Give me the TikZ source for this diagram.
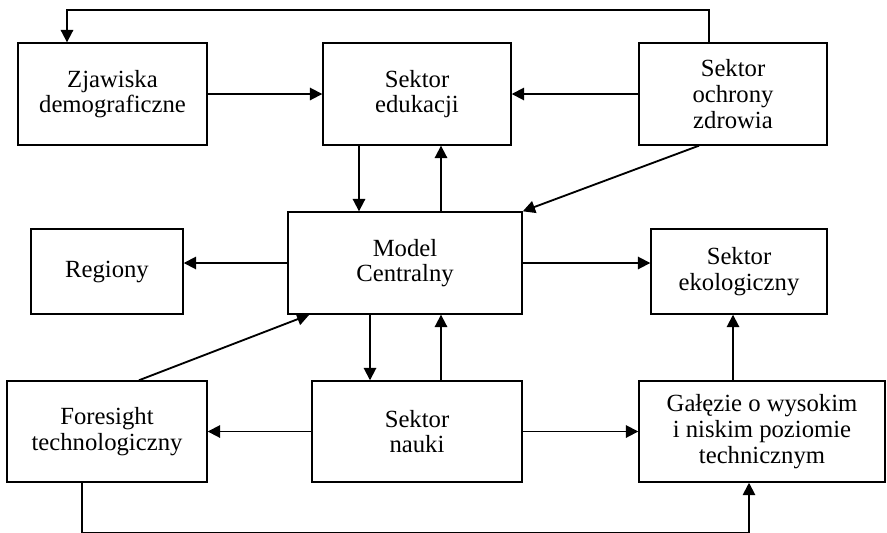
\documentclass[tikz,border=0pt]{standalone}
\usepackage{fontspec}
\setmainfont{Liberation Serif}
\usetikzlibrary{arrows.meta}

\begin{document}
\begin{tikzpicture}[x=0.567pt,y=-0.567pt,
    box/.style={draw,line width=0.8pt,align=center,inner sep=0pt,
        font=\fontsize{14}{14.6}\selectfont},
    conn/.style={line width=1.05pt},
    arr/.style={conn,-{Triangle[length=7pt,width=7pt]}}]

    \def\topH{57.8pt}; % height of the boxes in the top row
    \def\lowH{57.3pt}; % height of the boxes in the bottom row
    \def\midH{48.2pt}; % side boxes of the middle row

    \useasboundingbox (0,0) rectangle (887,532);

    %%% top row %%%
    \node[box,minimum width=107.2pt,minimum height=\topH] (demo) at (112.5,94) {Zjawiska\\demograficzne};
    \node[box,minimum width=106.6pt,minimum height=\topH] (edu) at (417,94) {Sektor\\edukacji};
    \node[box,minimum width=106.6pt,minimum height=\topH] (zdrowie) at (733,94) {Sektor\\ochrony\\zdrowia};

    %%% middle row %%%
    \node[box,minimum width=132.7pt,minimum height=\topH] (model) at (405,263) {Model\\Centralny};
    \node[box,minimum width=86.2pt,minimum height=\midH] (regiony) at (107,271.5) {Regiony};
    \node[box,minimum width=99.8pt,minimum height=\midH] (eko) at (739,271.5) {Sektor\\ekologiczny};

    %%% bottom row %%%
    \node[box,minimum width=113.4pt,minimum height=\lowH] (foresight) at (107,431.5) {Foresight\\technologiczny};
    \node[box,minimum width=119.1pt,minimum height=\lowH] (nauka) at (417,431.5) {Sektor\\nauki};
    \node[box,minimum width=139.5pt,minimum height=\lowH] (galezie) at (762,431.5) {Ga\l{}\k{e}zie o wysokim\\i niskim poziomie\\technicznym};

    % columns of the vertical connectors
    \coordinate (colA) at (359,0);
    \coordinate (colB) at (441,0);
    \coordinate (colC) at (370,0);
    \coordinate (colD) at (733,0);
    \coordinate (colE) at (749,0);
    \coordinate (topL) at (67,10);
    \coordinate (topR) at (709,10);
    \coordinate (botL) at (82,532.5);
    \coordinate (botR) at (749,532.5);

    %%% connectors %%%
    \draw[arr] (demo) -- (edu);
    \draw[arr] (zdrowie) -- (edu);
    \draw[arr] (edu.south -| colA) -- (model.north -| colA);
    \draw[arr] (model.north -| colB) -- (edu.south -| colB);
    \draw[arr] ([xshift=-19.3pt]zdrowie.south) -- (model.north east);
    \draw[arr] (model.west) -- (model.west -| regiony.east);
    \draw[arr] (model.east) -- (model.east -| eko.west);
    \draw[arr] (model.south -| colC) -- (nauka.north -| colC);
    \draw[arr] (nauka.north -| colB) -- (model.south -| colB);
    \draw[arr] ([xshift=-39pt]foresight.north east) -- ([xshift=12.5pt]model.south west);
    \draw[arr] (nauka.west) -- (foresight.east);
    \draw[arr] (nauka.east) -- (galezie.west);
    \draw[arr] (galezie.north -| colD) -- (eko.south -| colD);

    % long loops round the diagram
    \draw[arr] (zdrowie.north -| topR) -- (topR) -- (topL) -- (demo.north -| topL);
    \draw[arr] (foresight.south -| botL) -- (botL) -- (botR) -- (galezie.south -| colE);
\end{tikzpicture}
\end{document}
